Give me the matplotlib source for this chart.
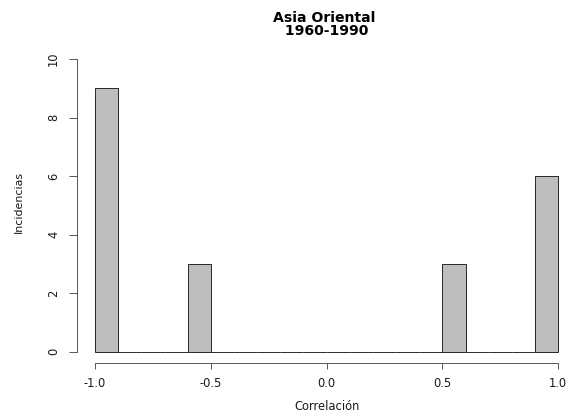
import matplotlib
matplotlib.use("Agg")
import matplotlib.pyplot as plt
import numpy as np

# Histogram data (bins of width 0.1 from -1 to 1)
bin_edges = [-1.0, -0.9, -0.8, -0.7, -0.6, -0.5, -0.4, -0.3, -0.2, -0.1, 0.0,
             0.1, 0.2, 0.3, 0.4, 0.5, 0.6, 0.7, 0.8, 0.9, 1.0]
counts = [9, 0, 0, 0, 3, 0, 0, 0, 0, 0, 0, 0, 0, 0, 0, 3, 0, 0, 0, 6]
x_ticks = [-1.0, -0.5, 0.0, 0.5, 1.0]
x_tick_labels = ["-1.0", "-0.5", "0.0", "0.5", "1.0"]
y_ticks = [0, 2, 4, 6, 8, 10]
title = "Asia Oriental\n 1960-1990"
xlabel = "Correlación"
ylabel = "Incidencias"

plt.rcParams['font.family'] = ['DejaVu Sans']

W, H = 576, 417
fig = plt.figure(figsize=(W/72, H/72), dpi=72)
ax_l, ax_b, ax_w, ax_h = 76.5, 363.4, 500.3, 316.1
ax = fig.add_axes([ax_l/W, (H-ax_b)/H, ax_w/W, ax_h/H])

edges = np.array(bin_edges)
ax.bar(edges[:-1], counts, width=np.diff(edges), align='edge',
       color='#bebebe', edgecolor='black', linewidth=0.8)

ax.set_xlim(-1.08, 1.08)
ax.set_ylim(-0.4, 10.4)

for s in ['top', 'right']:
    ax.spines[s].set_visible(False)
ax.spines['bottom'].set_bounds(-1, 1)
ax.spines['left'].set_bounds(0, 10)
for s in ['bottom', 'left']:
    ax.spines[s].set_color('#333333')
    ax.spines[s].set_linewidth(0.8)

ax.set_xticks(x_ticks)
ax.set_xticklabels(x_tick_labels)
ax.set_yticks(y_ticks)
ax.set_yticklabels([str(v) for v in y_ticks], rotation=90, va='center')
ax.tick_params(axis='x', length=6, width=0.8, colors='#333333',
               labelsize=11.5, labelcolor='#1a1a1a', pad=7.5)
ax.tick_params(axis='y', length=8, width=0.8, colors='#333333',
               labelsize=11.5, labelcolor='#1a1a1a', pad=8.5)

ax.set_xlabel(xlabel, fontsize=11.5, color='#1a1a1a', va='baseline')
ax.xaxis.set_label_coords(0.5, (ax_b - 410) / ax_h)
ax.set_ylabel(ylabel, fontsize=11, color='#1a1a1a', va='center', ha='center')
ax.yaxis.set_label_coords((19 - ax_l) / ax_w, 0.51)

fig.text((ax_l + ax_w/2 - 2) / W, 1 - 35.0 / H, title, ha='center',
         va='baseline', fontsize=14, fontweight='bold', linespacing=0.88,
         multialignment='center')

fig.savefig("out.png", dpi=72)
